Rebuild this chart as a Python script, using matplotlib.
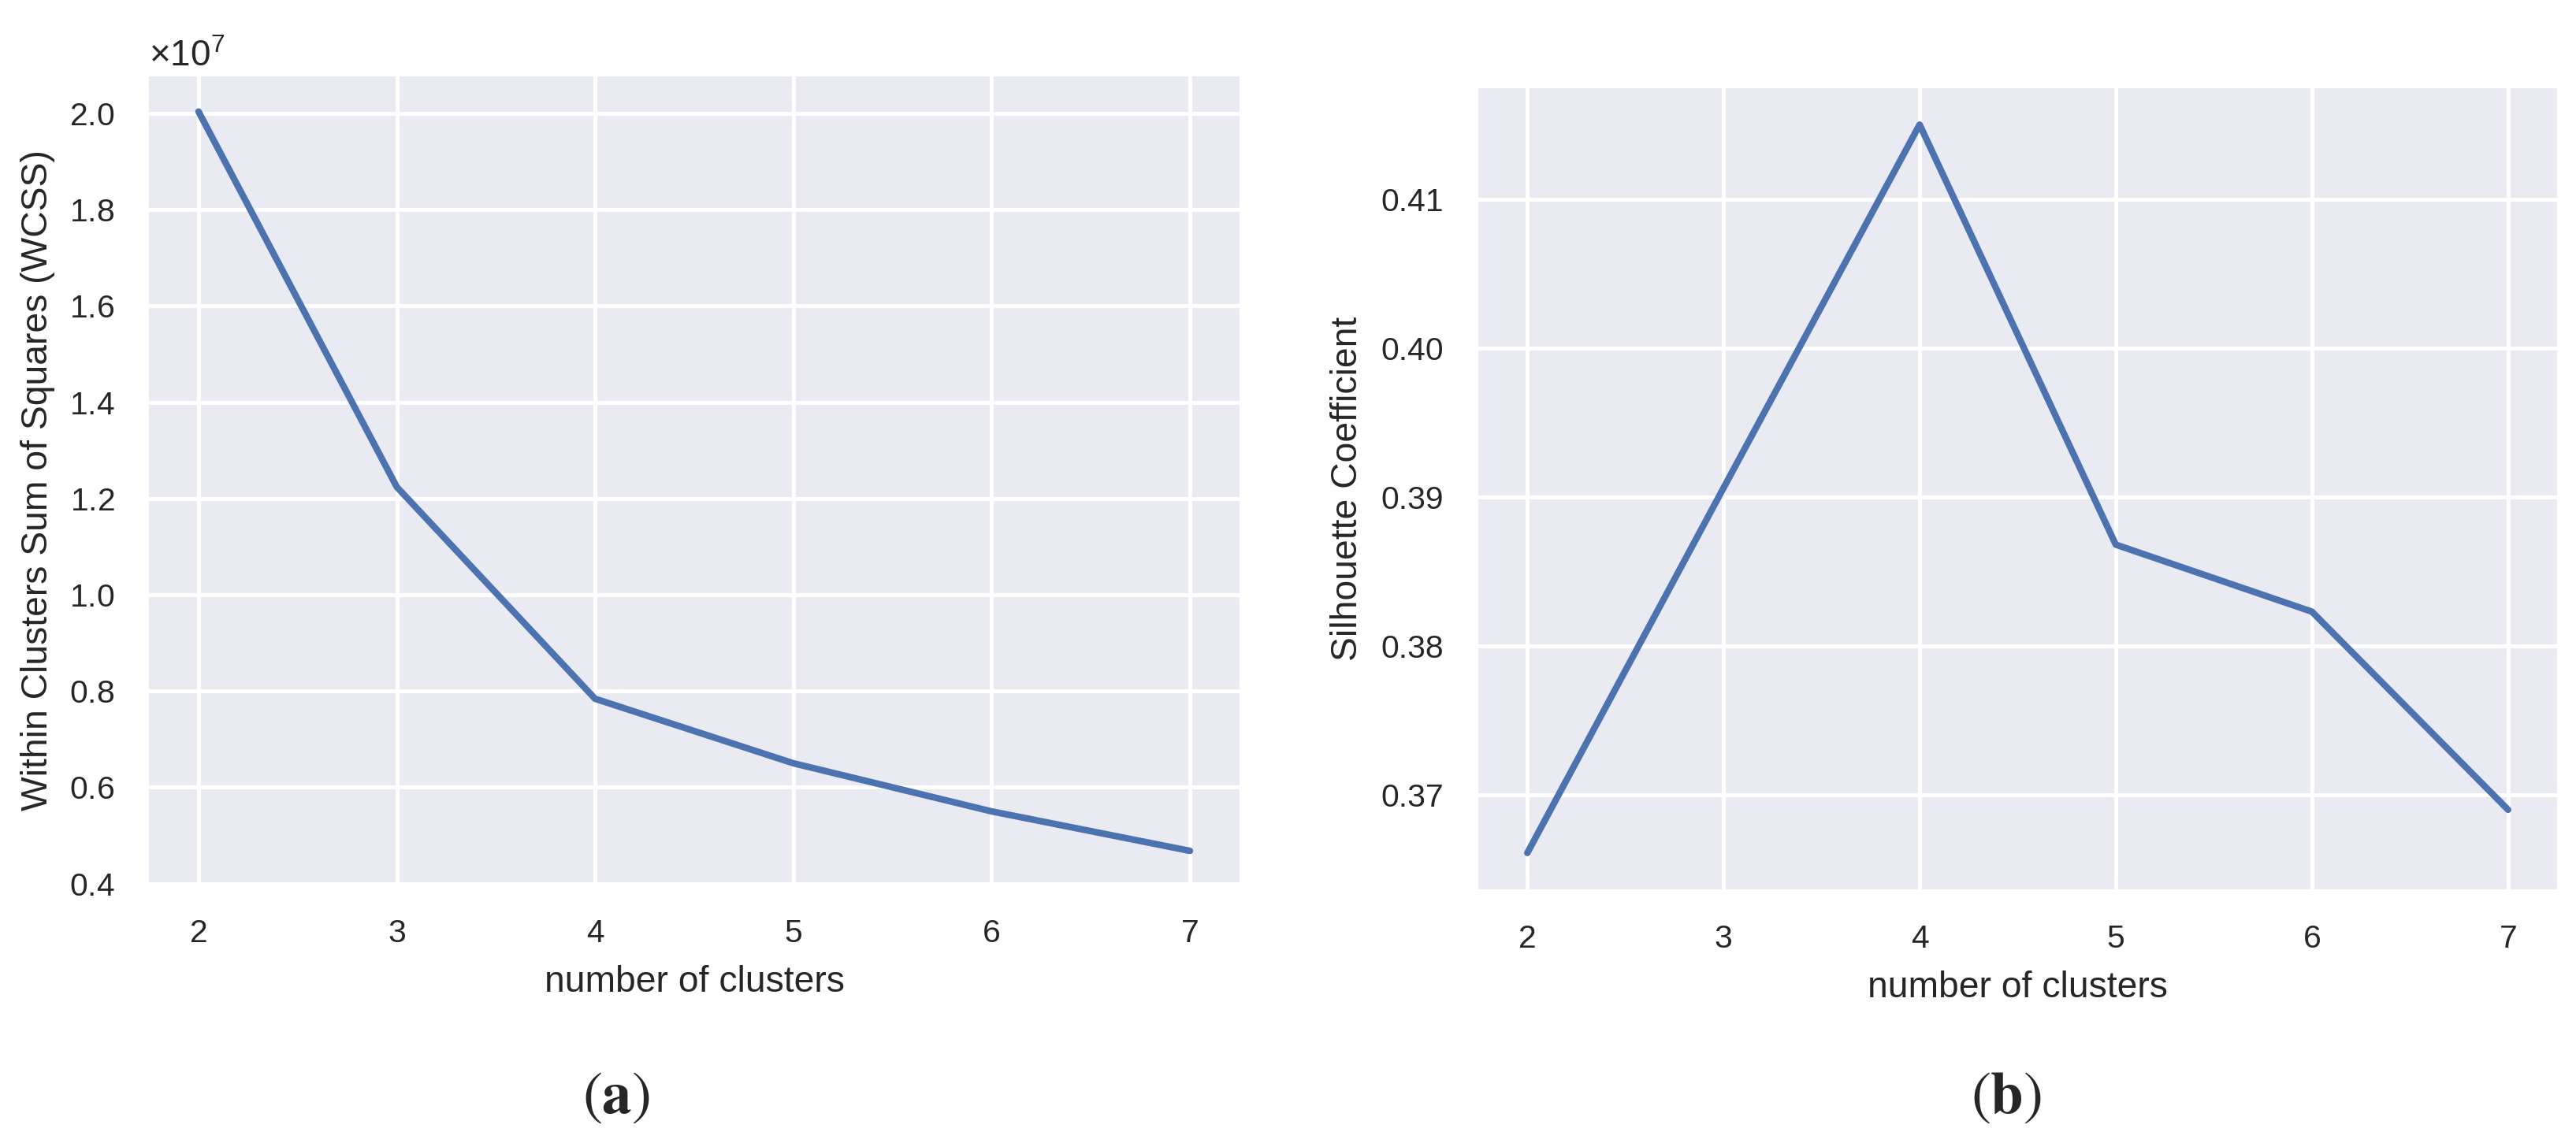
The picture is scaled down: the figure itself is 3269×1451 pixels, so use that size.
import numpy as np
import matplotlib
matplotlib.use('Agg')
import matplotlib.pyplot as plt
import seaborn as sns

# values
n_clusters = [2, 3, 4, 5, 6, 7]
wcss = [2.004e7, 1.224e7, 0.784e7, 0.650e7, 0.550e7, 0.468e7]
silhouette = [0.3661, 0.3906, 0.4150, 0.3868, 0.3823, 0.3690]

sns.set_theme(style='darkgrid')
plt.rcParams['font.family'] = ['Liberation Sans', 'DejaVu Sans']
plt.rcParams['mathtext.fontset'] = 'custom'
plt.rcParams['mathtext.rm'] = 'Liberation Sans'
plt.rcParams['mathtext.it'] = 'Liberation Sans:italic'
plt.rcParams['mathtext.bf'] = 'Liberation Sans:bold'

W, H = 3269, 1451
dpi = 300
fig = plt.figure(figsize=(W / dpi, H / dpi), dpi=dpi)


def px_axes(x0, y0, x1, y1):
    return fig.add_axes([x0 / W, 1 - y1 / H, (x1 - x0) / W, (y1 - y0) / H])


line_color = '#4C72B0'
tick_size = 9.8
label_size = 11.1

ax1 = px_axes(189, 97, 1573, 1122)
ax1.plot(n_clusters, wcss, color=line_color, lw=2.0)
ax1.set_ylim(0.3995e7, 2.077e7)
ax1.ticklabel_format(axis='y', style='sci', scilimits=(0, 0), useMathText=True)
ax1.yaxis.get_offset_text().set_fontsize(11)
ax1.set_xlabel('number of clusters', fontsize=label_size, labelpad=5)
ax1.set_ylabel('Within Clusters Sum of Squares (WCSS)', fontsize=label_size)
ax1.yaxis.set_label_coords(-0.086, 0.5)

ax2 = px_axes(1876, 112, 3245, 1129)
ax2.plot(n_clusters, silhouette, color=line_color, lw=2.0)
ax2.set_xlabel('number of clusters', fontsize=label_size, labelpad=5)
ax2.set_ylabel('Silhouette Coefficient', fontsize=label_size)
ax2.yaxis.set_label_coords(-0.105, 0.5)

for ax in (ax1, ax2):
    ax.set_xticks(n_clusters)
    ax.tick_params(labelsize=tick_size, pad=10.5, length=0)
    ax.grid(True, color='white', lw=1.2)
    for s in ax.spines.values():
        s.set_visible(False)

fig.text(782 / W, 1 - 1393 / H, r'$(\mathbf{a})$', ha='center', va='center',
         fontsize=18, math_fontfamily='stix')
fig.text(2546 / W, 1 - 1393 / H, r'$(\mathbf{b})$', ha='center', va='center',
         fontsize=18, math_fontfamily='stix')

fig.savefig('out.png', dpi=dpi)
